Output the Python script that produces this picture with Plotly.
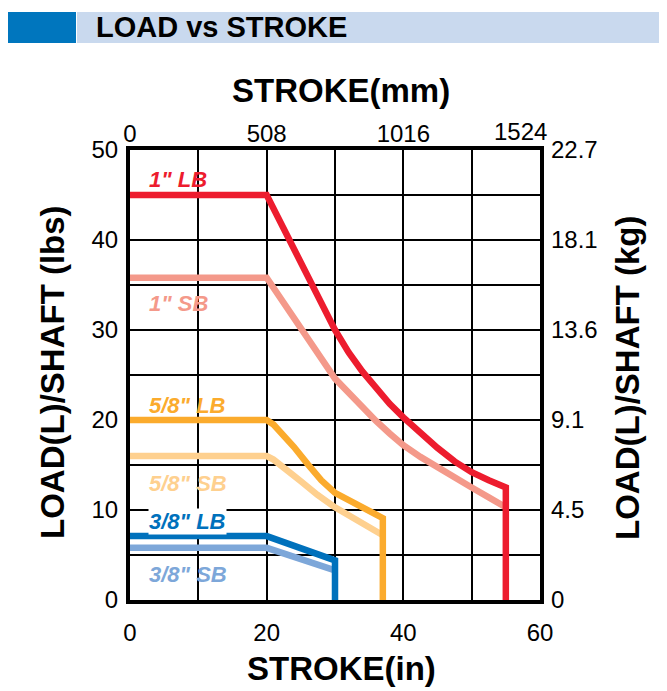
import plotly.graph_objects as go

# ---- data ----
lb1_x = [0, 20, 30, 32, 34, 36, 38, 40, 42.5, 45, 47.5, 50, 52.5, 55, 55]
lb1_y = [45, 45, 30, 27.5, 25.4, 23.5, 21.8, 20.3, 18.5, 16.9, 15.4, 14.2, 13.3, 12.5, 0]
sb1_x = [0, 20, 30, 32, 34, 36, 38, 40, 42.5, 45, 47.5, 50, 52.5, 55]
sb1_y = [35.8, 35.8, 24.6, 23.0, 21.4, 19.9, 18.5, 17.2, 15.9, 14.7, 13.6, 12.5, 11.4, 10.3]
lb58_x = [0, 20, 21, 22, 23, 24, 26, 28, 30, 37, 37]
lb58_y = [20, 20, 19.5, 18.7, 17.9, 17.0, 15.1, 13.3, 11.9, 9.1, 0]
sb58_x = [0, 20, 21, 22.4, 25, 27.4, 30, 37]
sb58_y = [16, 16, 15.6, 14.8, 13.2, 11.7, 10.3, 7.2]
lb38_x = [0, 20, 30, 30]
lb38_y = [7.1, 7.1, 4.4, 0]
sb38_x = [0, 20, 30]
sb38_y = [5.8, 5.8, 3.3]

series_names = ['3/8" SB', '3/8" LB', '5/8" SB', '5/8" LB', '1" SB', '1" LB']
label_y = [2.8, 8.7, 12.9, 21.6, 32.9, 46.7]
colors = ['#7DA7D9', '#0071BC', '#FED08F', '#FBAB2D', '#F4998A', '#ED1C2E']

x_in_ticks = [0, 10, 20, 30, 40, 50, 60]
x_in_text = ['0', '', '20', '', '40', '', '60']
x_mm_ticks = [0, 20, 40, 60]
x_mm_text = ['0', '508', '1016', '1524']
y_lbs_ticks = [0, 5, 10, 15, 20, 25, 30, 35, 40, 45, 50]
y_lbs_text = ['0', '', '10', '', '20', '', '30', '', '40', '', '50']
y_kg_ticks = [0, 10, 20, 30, 40, 50]
y_kg_text = ['0', '4.5', '9.1', '13.6', '18.1', '22.7']

FONT = 'Liberation Sans, Arial, sans-serif'

xs = [sb38_x, lb38_x, sb58_x, lb58_x, sb1_x, lb1_x]
ys = [sb38_y, lb38_y, sb58_y, lb58_y, sb1_y, lb1_y]

fig = go.Figure()
for name, x, y, c in zip(series_names, xs, ys, colors):
    fig.add_trace(go.Scatter(x=x, y=y, mode='lines', name=name,
                             line=dict(color=c, width=6.5), showlegend=False,
                             hoverinfo='skip'))

# invisible trace for the secondary axes
fig.add_trace(go.Scatter(x=[0, 60], y=[0, 50], mode='markers', marker=dict(opacity=0),
                         xaxis='x2', yaxis='y2', showlegend=False, hoverinfo='skip'))

tickfont = dict(family=FONT, size=24, color='black')

# the last top label is nudged left (as in the reference) so it is drawn separately
top_axis_text = x_mm_text[:-1] + ['']

# page has an 8px body margin: figure 659x683 fills the 667x691 window
fig.update_layout(
    width=659, height=683, autosize=False,
    margin=dict(l=122, r=127, t=142, b=91),
    paper_bgcolor='white', plot_bgcolor='white',
    xaxis=dict(range=[0, 60], tickvals=x_in_ticks, ticktext=x_in_text,
               showgrid=True, gridcolor='black', gridwidth=2, automargin=False,
               showline=True, linecolor='black', linewidth=4, mirror=True,
               ticks='', tickfont=tickfont, zeroline=False, ticklabelstandoff=8),
    xaxis2=dict(range=[0, 60], overlaying='x', side='top', tickvals=x_mm_ticks,
                ticktext=top_axis_text, showgrid=False, showline=False, ticks='',
                automargin=False,
                tickfont=tickfont, zeroline=False, ticklabelstandoff=2),
    yaxis=dict(range=[0, 50], tickvals=y_lbs_ticks, ticktext=y_lbs_text,
               showgrid=True, gridcolor='black', gridwidth=2, automargin=False,
               showline=True, linecolor='black', linewidth=4, mirror=True,
               ticks='', tickfont=tickfont, zeroline=False, ticklabelstandoff=3),
    yaxis2=dict(range=[0, 50], overlaying='y', side='right', tickvals=y_kg_ticks,
                ticktext=y_kg_text, showgrid=False, showline=False, ticks='',
                automargin=False,
                tickfont=tickfont, zeroline=False, ticklabelstandoff=10),
)

fig.add_annotation(text=x_mm_text[-1], xref='paper', yref='paper',
                   x=(549 - 130) / 410, y=(600 - 132) / 450, xanchor='right',
                   yanchor='middle', showarrow=False, font=tickfont)

# header bar (positions in page pixels converted to paper coords)
fig.add_shape(type='rect', xref='paper', yref='paper',
              x0=(8 - 130) / 410, x1=(76 - 130) / 410,
              y0=(600 - 43) / 450, y1=(600 - 12) / 450,
              fillcolor='#0076BE', line=dict(width=0), layer='above')
fig.add_shape(type='rect', xref='paper', yref='paper',
              x0=(77 - 130) / 410, x1=(667 - 130) / 410,
              y0=(600 - 43) / 450, y1=(600 - 12) / 450,
              fillcolor='#C9D9EE', line=dict(width=0), layer='above')

bold = dict(family=FONT, color='black', weight='bold')
fig.add_annotation(text='LOAD vs STROKE', xref='paper', yref='paper',
                   x=(94 - 130) / 410, y=(600 - 27) / 450, xanchor='left', yanchor='middle',
                   showarrow=False, font=dict(size=29, **bold))
fig.add_annotation(text='STROKE(mm)', xref='paper', yref='paper',
                   x=(341 - 130) / 410, y=(600 - 90) / 450, xanchor='center', yanchor='middle',
                   showarrow=False, font=dict(size=33, **bold))
fig.add_annotation(text='STROKE(in)', xref='paper', yref='paper',
                   x=(341 - 130) / 410, y=(600 - 668) / 450, xanchor='center', yanchor='middle',
                   showarrow=False, font=dict(size=33, **bold))
fig.add_annotation(text='LOAD(L)/SHAFT (lbs)', xref='paper', yref='paper',
                   x=(52 - 130) / 410, y=(600 - 372) / 450, xanchor='center', yanchor='middle',
                   textangle=-90, showarrow=False, font=dict(size=33, **bold))
fig.add_annotation(text='LOAD(L)/SHAFT (kg)', xref='paper', yref='paper',
                   x=(627 - 130) / 410, y=(600 - 378) / 450, xanchor='center', yanchor='middle',
                   textangle=-90, showarrow=False, font=dict(size=33, **bold))

for name, ly, c in zip(series_names, label_y, colors):
    fig.add_annotation(text=name, x=2.6, y=ly, xref='x', yref='y', xanchor='left',
                       yanchor='middle', showarrow=False,
                       bgcolor='white' if name == '3/8" LB' else None, borderpad=0,
                       font=dict(family=FONT, size=22, color=c, weight='bold', style='italic'))

fig.write_html('out.html')
